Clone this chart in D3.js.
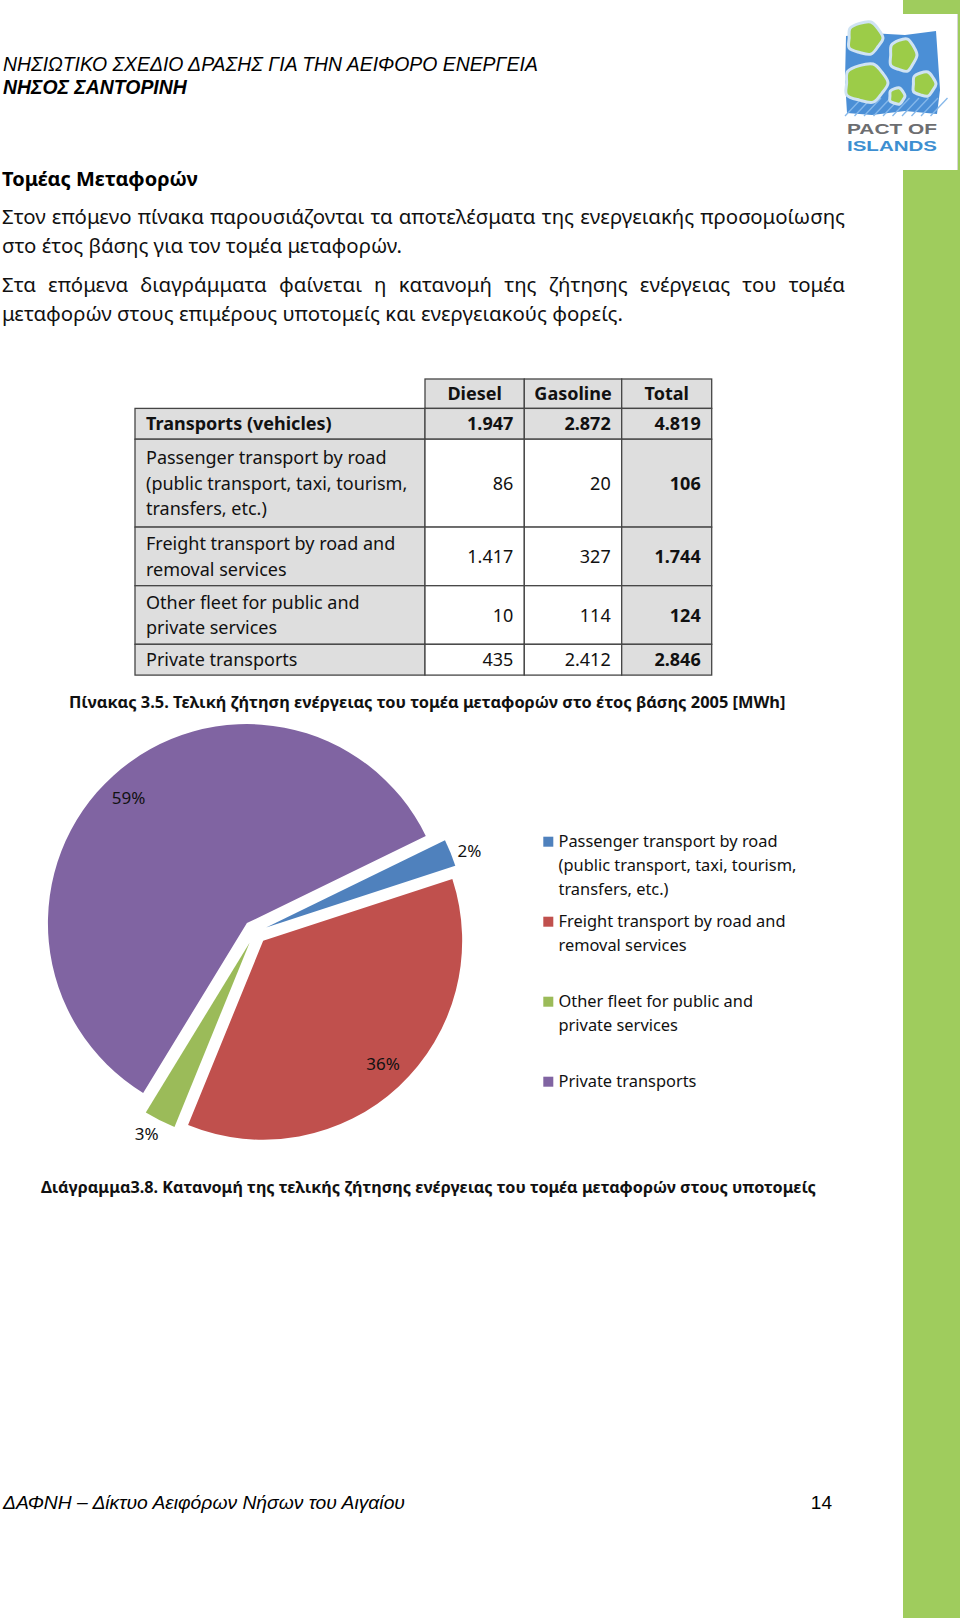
<!DOCTYPE html>
<html>
<head>
<meta charset="utf-8">
<script src="https://cdn.jsdelivr.net/npm/d3@7"></script>
<style>
body { margin: 0; background: #fff; }
</style>
</head>
<body>
<div id="page"></div>
<script>
// data
var categories = [
    "Passenger transport by road\n(public transport, taxi, tourism,\ntransfers, etc.)",
    "Freight transport by road and\nremoval services",
    "Other fleet for public and\nprivate services",
    "Private transports"
];
var fuels = ["Diesel", "Gasoline", "Total"];
var diesel = [86, 1417, 10, 435];
var gasoline = [20, 327, 114, 2412];
var totals = [106, 1744, 124, 2846];
var sectorName = "Transports (vehicles)";
var sectorValues = [1947, 2872, 4819];

var headerLines = ["ΝΗΣΙΩΤΙΚΟ ΣΧΕΔΙΟ ΔΡΑΣΗΣ ΓΙΑ ΤΗΝ ΑΕΙΦΟΡΟ ΕΝΕΡΓΕΙΑ", "ΝΗΣΟΣ ΣΑΝΤΟΡΙΝΗ"];
var sectionTitle = "Τομέας Μεταφορών";
var paragraphs = [
    ["Στον επόμενο πίνακα παρουσιάζονται τα αποτελέσματα της ενεργειακής προσομοίωσης",
     "στο έτος βάσης για τον τομέα μεταφορών."],
    ["Στα επόμενα διαγράμματα φαίνεται η κατανομή της ζήτησης ενέργειας του τομέα",
     "μεταφορών στους επιμέρους υποτομείς και ενεργειακούς φορείς."]
];
var tableCaption = "Πίνακας 3.5. Τελική ζήτηση ενέργειας του τομέα μεταφορών στο έτος βάσης 2005 [MWh]";
var chartCaption = "Διάγραμμα3.8. Κατανομή της τελικής ζήτησης ενέργειας του τομέα μεταφορών στους υποτομείς";
var footerText = "ΔΑΦΝΗ – Δίκτυο Αειφόρων Νήσων του Αιγαίου";
var pageNumber = "14";
var logoWords = ["PACT OF", "ISLANDS"];

var sliceColors = ["#4f81bd", "#c0504d", "#9bbb59", "#8064a2"];

var width = 960, height = 1618;
var bodyFont = "'Noto Sans', 'Open Sans', sans-serif";
var arialFont = "'Liberation Sans', Arial, sans-serif";

var svg = d3.select("#page").append("svg")
    .attr("width", width)
    .attr("height", height);

// green side bar + logo box
svg.append("rect").attr("x", 903).attr("y", 0).attr("width", 57).attr("height", height).attr("fill", "#9fcc5d");
svg.append("rect").attr("x", 903).attr("y", 14).attr("width", 54).attr("height", 156).attr("fill", "#fff");
svg.append("line").attr("x1", 957.5).attr("x2", 957.5).attr("y1", 14).attr("y2", 170)
    .attr("stroke", "#d6d6d6").attr("stroke-width", 1);

// logo (rough drawing)
var logo = svg.append("g");
logo.append("path")
    .attr("d", "M846,36 L870,33 L905,35 L936,31 L938,60 L940,90 L937,114 L905,111 L872,115 L847,113 L845,80 Z")
    .attr("fill", "#4b8fd6");
for (var i = 0; i < 10; i++) {
    logo.append("line")
        .attr("x1", 845 + i * 9.5).attr("y1", 116)
        .attr("x2", 862 + i * 9.5).attr("y2", 98)
        .attr("stroke", "#86b8ea").attr("stroke-width", 1.3);
}
var wobble = [1, 0.9, 1.06, 0.95, 1.08, 0.88, 1.03, 0.96, 1.05, 0.92];
var blobLine = d3.line().curve(d3.curveCardinalClosed);
function blobPath(cx, cy, rx, ry) {
    return blobLine(wobble.map(function(w, k) {
        var a = k / wobble.length * 2 * Math.PI;
        return [cx + rx * w * Math.cos(a), cy + ry * w * Math.sin(a)];
    }));
}
var blobs = [[865, 38, 18, 16], [903, 55, 14, 16], [866, 83, 22, 19], [924, 84, 12, 12], [897, 96, 8, 8]];
blobs.forEach(function(b) {
    logo.append("path").attr("d", blobPath(b[0], b[1], b[2], b[3]))
        .attr("fill", "#9ccc48").attr("stroke", "#cfe3f3").attr("stroke-width", 3);
});
logoWords.forEach(function(w, k) {
    logo.append("text")
        .attr("x", 847).attr("y", 133.5 + k * 17.5)
        .attr("textLength", 90).attr("lengthAdjust", "spacingAndGlyphs")
        .attr("font-family", arialFont).attr("font-weight", "bold").attr("font-size", 15.5)
        .attr("fill", k === 0 ? "#6d6e71" : "#3d8fd1")
        .text(w);
});

// page header
svg.append("text").attr("x", 3).attr("y", 71)
    .attr("font-family", arialFont).attr("font-style", "italic").attr("font-size", 19.4)
    .text(headerLines[0]);
svg.append("text").attr("x", 3).attr("y", 94)
    .attr("font-family", arialFont).attr("font-style", "italic").attr("font-weight", "bold").attr("font-size", 19.4)
    .text(headerLines[1]);

// section title and paragraphs
svg.append("text").attr("x", 2).attr("y", 186)
    .attr("font-family", bodyFont).attr("font-weight", "bold").attr("font-size", 20)
    .text(sectionTitle);

function justify(sel, w) {
    sel.each(function() {
        var t = d3.select(this);
        var natural = this.getComputedTextLength();
        var gaps = t.text().split(" ").length - 1;
        if (gaps > 0) t.attr("word-spacing", (w - natural) / gaps);
    });
}

var paraY = [[224, 253], [292, 321]];
paragraphs.forEach(function(p, pi) {
    p.forEach(function(line, li) {
        var t = svg.append("text").attr("x", 2).attr("y", paraY[pi][li])
            .attr("font-family", bodyFont).attr("font-size", 20.4)
            .attr("fill", "#111")
            .text(line);
        if (li < p.length - 1) justify(t, 843);
    });
});

// table
var locale = d3.formatLocale({decimal: ",", thousands: ".", grouping: [3], currency: ["", "€"]});
var fmt = locale.format(",d");

var colEdges = [135, 425, 524.3, 621.7, 711.7];
var tableTop = 379, headerH = 29.4, lineH = 25.3;
function rowHeight(n) { return n === 1 ? 30.8 : 29.3 * n; }

var rows = [{label: sectorName, values: sectorValues, bold: true}];
categories.forEach(function(c, i) {
    rows.push({label: c, values: [diesel[i], gasoline[i], totals[i]], bold: false});
});
var y0 = tableTop + headerH;
rows.forEach(function(r) {
    r.lines = r.label.split("\n");
    r.top = y0;
    r.h = rowHeight(r.lines.length);
    y0 += r.h;
});

var table = svg.append("g")
    .attr("font-family", bodyFont)
    .attr("font-size", 18)
    .attr("fill", "#111");
var gray = "#dedede", border = "#454545";

// header row
fuels.forEach(function(f, c) {
    table.append("rect")
        .attr("x", colEdges[c + 1]).attr("y", tableTop)
        .attr("width", colEdges[c + 2] - colEdges[c + 1]).attr("height", headerH)
        .attr("fill", gray).attr("stroke", border).attr("stroke-width", 1.3);
    table.append("text")
        .attr("x", (colEdges[c + 1] + colEdges[c + 2]) / 2)
        .attr("y", tableTop + headerH / 2 + 6.5)
        .attr("text-anchor", "middle")
        .attr("font-weight", "bold")
        .text(f);
});

rows.forEach(function(r, ri) {
    var mid = r.top + r.h / 2 + 6.5;
    for (var c = 0; c < 4; c++) {
        var fill = (ri === 0 || c === 0 || c === 3) ? gray : "#fff";
        table.append("rect")
            .attr("x", colEdges[c]).attr("y", r.top)
            .attr("width", colEdges[c + 1] - colEdges[c]).attr("height", r.h)
            .attr("fill", fill).attr("stroke", border).attr("stroke-width", 1.3);
    }
    r.lines.forEach(function(l, li) {
        table.append("text")
            .attr("x", colEdges[0] + 11)
            .attr("y", mid + (li - (r.lines.length - 1) / 2) * lineH)
            .attr("font-weight", r.bold ? "bold" : "normal")
            .text(l);
    });
    r.values.forEach(function(v, c) {
        table.append("text")
            .attr("x", colEdges[c + 2] - 11)
            .attr("y", mid)
            .attr("text-anchor", "end")
            .attr("font-weight", (r.bold || c === 2) ? "bold" : "normal")
            .text(fmt(v));
    });
});

svg.append("text").attr("x", 69).attr("y", 708)
    .attr("font-family", bodyFont).attr("font-weight", "bold").attr("font-size", 16.4)
    .attr("fill", "#111")
    .text(tableCaption);

// pie chart
var pieCx = 255, pieCy = 932, radius = 199, explode = 12;
var a0 = 64 * Math.PI / 180;
var pie = d3.pie().sort(null).startAngle(a0).endAngle(a0 + 2 * Math.PI);
var arcs = pie(totals);
var sum = d3.sum(totals);
var arc = d3.arc().innerRadius(0).outerRadius(radius);
var pct = d3.format(".0%");

var pieG = svg.append("g").attr("transform", "translate(" + pieCx + "," + pieCy + ")");
function mid(d) { return (d.startAngle + d.endAngle) / 2; }

pieG.selectAll("path.slice")
    .data(arcs)
    .enter()
    .append("path")
    .attr("class", "slice")
    .attr("d", arc)
    .attr("fill", function(d, i) { return sliceColors[i]; })
    .attr("transform", function(d) {
        var a = mid(d);
        return "translate(" + (explode * Math.sin(a)) + "," + (-explode * Math.cos(a)) + ")";
    });

pieG.selectAll("text.lbl")
    .data(arcs)
    .enter()
    .append("text")
    .attr("class", "lbl")
    .attr("transform", function(d) {
        var inside = d.data / sum > 0.1;
        var r = inside ? 172 + explode : 229;
        var shift = inside ? -0.02 : 0.025;
        var p = d3.arc().innerRadius(r).outerRadius(r)
            .startAngle(d.startAngle + shift).endAngle(d.endAngle + shift).centroid();
        return "translate(" + p[0] + "," + p[1] + ")";
    })
    .attr("text-anchor", "middle")
    .attr("dy", "0.35em")
    .attr("font-family", bodyFont)
    .attr("font-size", 17)
    .attr("fill", "#111")
    .text(function(d) { return pct(d.data / sum); });

// legend
var legendY = d3.scaleLinear().domain([0, 1]).range([846.7, 926.7]);
var legend = svg.append("g")
    .attr("font-family", bodyFont)
    .attr("font-size", 16.4)
    .attr("fill", "#111");
categories.forEach(function(c, i) {
    var by = legendY(i);
    legend.append("rect")
        .attr("x", 543.3).attr("y", by - 10)
        .attr("width", 10).attr("height", 10)
        .attr("fill", sliceColors[i]);
    c.split("\n").forEach(function(l, li) {
        legend.append("text")
            .attr("x", 558.5)
            .attr("y", by + li * 24)
            .text(l);
    });
});

svg.append("text").attr("x", 41).attr("y", 1193)
    .attr("font-family", bodyFont).attr("font-weight", "bold").attr("font-size", 16.2)
    .attr("fill", "#111")
    .text(chartCaption);

// footer
svg.append("text").attr("x", 3).attr("y", 1509)
    .attr("font-family", "'Liberation Sans Narrow', " + arialFont)
    .attr("font-style", "italic").attr("font-size", 19.3)
    .text(footerText);
svg.append("text").attr("x", 832).attr("y", 1509)
    .attr("text-anchor", "end")
    .attr("font-family", "'Liberation Sans Narrow', " + arialFont)
    .attr("font-size", 19)
    .text(pageNumber);
</script>
</body>
</html>
